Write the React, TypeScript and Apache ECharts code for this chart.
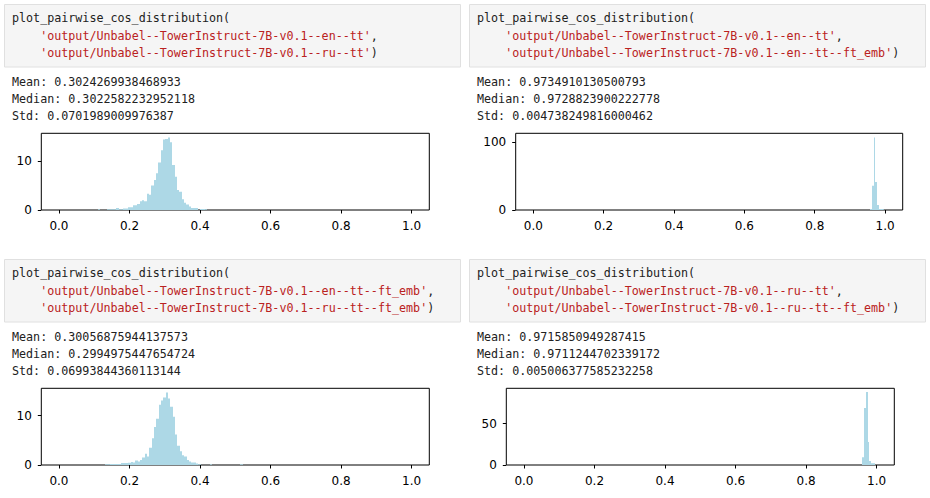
import React, { useEffect, useRef } from "react";
import * as echarts from "echarts";

// ---- texts ----
const FN_CALL = "plot_pairwise_cos_distribution(";
const argsA = ["'output/Unbabel--TowerInstruct-7B-v0.1--en--tt'", "'output/Unbabel--TowerInstruct-7B-v0.1--ru--tt'"];
const argsB = ["'output/Unbabel--TowerInstruct-7B-v0.1--en--tt'", "'output/Unbabel--TowerInstruct-7B-v0.1--en--tt--ft_emb'"];
const argsC = ["'output/Unbabel--TowerInstruct-7B-v0.1--en--tt--ft_emb'", "'output/Unbabel--TowerInstruct-7B-v0.1--ru--tt--ft_emb'"];
const argsD = ["'output/Unbabel--TowerInstruct-7B-v0.1--ru--tt'", "'output/Unbabel--TowerInstruct-7B-v0.1--ru--tt--ft_emb'"];

const statsA = ["Mean: 0.3024269938468933", "Median: 0.3022582232952118", "Std: 0.0701989009976387"];
const statsB = ["Mean: 0.9734910130500793", "Median: 0.9728823900222778", "Std: 0.004738249816000462"];
const statsC = ["Mean: 0.30056875944137573", "Median: 0.2994975447654724", "Std: 0.06993844360113144"];
const statsD = ["Mean: 0.9715850949287415", "Median: 0.9711244702339172", "Std: 0.005006377585232258"];

// ---- axes ----
const xTicks = [0, 0.2, 0.4, 0.6, 0.8, 1.0];
const yTicksA = [0, 10];
const yTicksB = [0, 100];
const yTicksC = [0, 10];
const yTicksD = [0, 50];
const yMaxA = 15.65;
const yMaxB = 112.5;
const yMaxC = 15.55;
const yMaxD = 92.9;

// ---- histogram densities ----
const binStartA = 0.1098;
const binWidthA = 0.00662;
const densityA = [
  0.15, 0, 0, 0, 0.15, 0.15, 0.15, 0.15, 0.4, 0.15, 0.15, 0.3, 0.3, 0.55, 0.55, 0.95, 0.95, 1.2, 1.8, 2.0, 1.8,
  3.3, 3.1, 5.0, 6.1, 7.5, 9.7, 12.2, 14.4, 14.5, 14.8, 13.8, 9.2, 6.8, 4.1, 3.7, 2.2, 1.5, 1.1, 0.7, 0.4, 0.4,
  0.4, 0, 0.2, 0.2, 0.15,
];

const binStartB = 0.958;
const binWidthB = 0.00285;
const densityB = [1.5, 1.5, 35.6, 35.6, 106.4, 41, 41, 7.3, 7.3, 1.5, 1.5, 1.5, 1.5, 1.0];

const binStartC = 0.1306;
const binWidthC = 0.00662;
const densityC = [
  0.15, 0.15, 0.2, 0.2, 0.2, 0.2, 0.2, 0.4, 0.4, 0.4, 0.45, 0.6, 0.5, 0.9, 0.7, 1.0, 1.5, 2.3, 1.7, 3.5, 5.4,
  7.7, 9.4, 12.2, 13.1, 13.7, 14.7, 13.5, 11.8, 9.8, 6.2, 3.9, 2.8, 2.0, 1.7, 1.0, 0.7, 0.5, 0.5, 0.3, 0.15,
  0, 0, 0, 0, 0.15, 0, 0, 0, 0, 0, 0, 0, 0, 0, 0, 0, 0, 0.15,
];

const binStartD = 0.9582;
const binWidthD = 0.00285;
const densityD = [9.3, 9.3, 69, 69, 88.4, 88.4, 27.8, 4.8, 4.8, 2.0, 2.0, 2.0, 2.0];

const MONO = "'DejaVu Sans Mono', monospace";
const SANS = "'DejaVu Sans', sans-serif";
const BAR = "#ADD8E6";

function bins(start: number, w: number, vals: number[]) {
  return vals.map((v, i) => [start + i * w, start + (i + 1) * w, v]);
}

export default function App() {
  const ref = useRef<HTMLDivElement>(null);
  useEffect(() => {
    if (!ref.current) return;
    const chart = echarts.init(ref.current, null, { renderer: "svg" });

    const grids = [
      { left: 41.3, top: 133.3, width: 388, height: 76.7 },
      { left: 515.7, top: 133.3, width: 387, height: 76.7 },
      { left: 41.3, top: 388.3, width: 388, height: 76.7 },
      { left: 506.3, top: 388.3, width: 388, height: 76.7 },
    ].map((g) => ({ ...g, show: true, borderColor: "#000", borderWidth: 1, backgroundColor: "transparent" }));

    const yTicks = [yTicksA, yTicksB, yTicksC, yTicksD];
    const yMax = [yMaxA, yMaxB, yMaxC, yMaxD];
    const data = [
      bins(binStartA, binWidthA, densityA),
      bins(binStartB, binWidthB, densityB),
      bins(binStartC, binWidthC, densityC),
      bins(binStartD, binWidthD, densityD),
    ];

    const xAxis = grids.map((_, i) => ({
      type: "value",
      gridIndex: i,
      min: -0.05,
      max: 1.05,
      position: "bottom",
      axisLine: { show: false, onZero: false },
      splitLine: { show: false },
      axisTick: { show: true, customValues: xTicks, length: 3.5, lineStyle: { color: "#000", width: 1 } },
      axisLabel: {
        customValues: xTicks,
        formatter: (v: number) => v.toFixed(1),
        fontFamily: SANS,
        fontSize: 12,
        color: "#000",
        margin: 9.5,
      },
    }));
    const yAxis = grids.map((_, i) => ({
      type: "value",
      gridIndex: i,
      min: 0,
      max: yMax[i],
      position: "left",
      axisLine: { show: false, onZero: false },
      splitLine: { show: false },
      axisTick: { show: true, customValues: yTicks[i], length: 3.5, lineStyle: { color: "#000", width: 1 } },
      axisLabel: {
        customValues: yTicks[i],
        formatter: (v: number) => String(v),
        fontFamily: SANS,
        fontSize: 12,
        color: "#000",
        margin: 9.5,
      },
    }));

    const series = data.map((d, i) => ({
      type: "custom",
      xAxisIndex: i,
      yAxisIndex: i,
      data: d,
      clip: true,
      encode: { x: [0, 1], y: 2 },
      renderItem: (params: any, api: any) => {
        const p0 = api.coord([api.value(0), api.value(2)]);
        const p1 = api.coord([api.value(1), 0]);
        const xa = Math.round(p0[0]);
        const xb = Math.max(xa + 1, Math.round(p1[0]));
        return {
          type: "rect",
          shape: { x: xa, y: p0[1], width: xb - xa, height: p1[1] - p0[1] },
          style: { fill: BAR },
        };
      },
    }));

    const graphic: any[] = [];
    const panels = [
      { x: 4, y: 4, args: argsA, stats: statsA },
      { x: 469, y: 4, args: argsB, stats: statsB },
      { x: 4, y: 259, args: argsC, stats: statsC },
      { x: 469, y: 259, args: argsD, stats: statsD },
    ];
    const cw = 7.04;
    panels.forEach((p) => {
      graphic.push({
        type: "rect",
        shape: { x: p.x + 0.5, y: p.y + 0.5, width: 456, height: 62.5 },
        style: { fill: "#f5f5f5", stroke: "#e0e0e0", lineWidth: 1 },
      });
      const tx = p.x + 8;
      graphic.push({
        type: "text",
        x: tx,
        y: p.y + 14.3,
        style: { text: FN_CALL, font: `11.7px ${MONO}`, fill: "#212121", verticalAlign: "middle" },
      });
      p.args.forEach((a, j) => {
        graphic.push({
          type: "text",
          x: tx + 4 * cw,
          y: p.y + 32 + j * 17.3,
          style: {
            text: `{s|${a}}{p|${j === 0 ? "," : ")"}}`,
            font: `11.7px ${MONO}`,
            verticalAlign: "middle",
            rich: {
              s: { fill: "#BA2121", font: `11.7px ${MONO}` },
              p: { fill: "#212121", font: `11.7px ${MONO}` },
            },
          },
        });
      });
      p.stats.forEach((s, j) => {
        graphic.push({
          type: "text",
          x: tx,
          y: p.y + 77.7 + j * 17.2,
          style: { text: s, font: `11.7px ${MONO}`, fill: "#212121", verticalAlign: "middle" },
        });
      });
    });

    chart.setOption({
      animation: false,
      backgroundColor: "#fff",
      grid: grids,
      xAxis,
      yAxis,
      series,
      graphic,
    } as any);
    return () => chart.dispose();
  }, []);
  return <div ref={ref} style={{ position: "absolute", left: 0, top: 0, width: 930, height: 498 }} />;
}
